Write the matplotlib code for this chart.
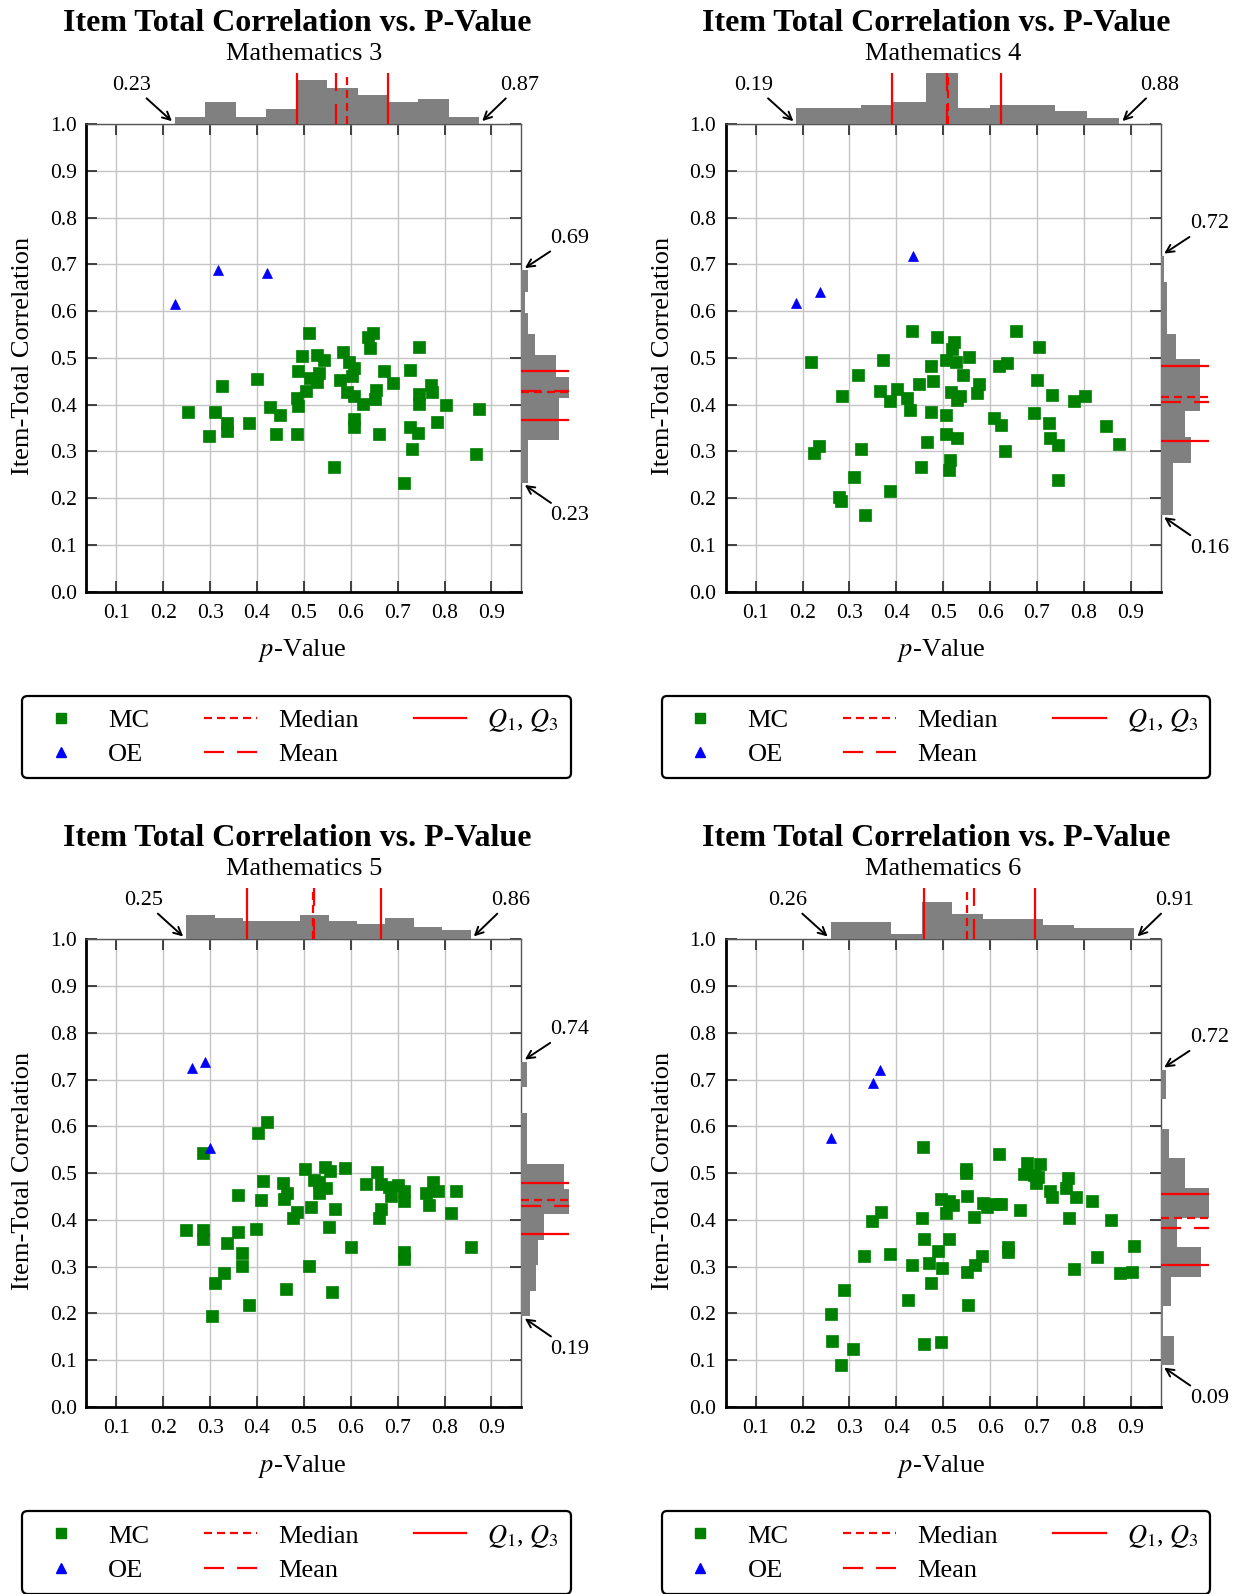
import numpy as np
import matplotlib
matplotlib.use("Agg")
import matplotlib.pyplot as plt
from matplotlib.lines import Line2D

plt.rcParams['font.family'] = ['Liberation Serif', 'DejaVu Serif']
plt.rcParams['mathtext.fontset'] = 'stix'

# ---------------- item statistics (p-value, item-total correlation) ----------------
subjects = ["Mathematics 3", "Mathematics 4", "Mathematics 5", "Mathematics 6"]

# Mathematics 3
m3_mc_p = [0.511, 0.647, 0.637, 0.640, 0.746, 0.497, 0.528, 0.542, 0.583, 0.596,
           0.606, 0.488, 0.532, 0.512, 0.528, 0.576, 0.603, 0.670, 0.690, 0.727,
           0.400, 0.325, 0.504, 0.486, 0.488, 0.591, 0.606, 0.626, 0.651, 0.653,
           0.745, 0.746, 0.771, 0.773, 0.804, 0.874, 0.252, 0.310, 0.337, 0.337,
           0.298, 0.383, 0.427, 0.450, 0.440, 0.486, 0.606, 0.606, 0.660, 0.727,
           0.744, 0.785, 0.731, 0.868, 0.565, 0.714]
m3_mc_r = [0.553, 0.554, 0.544, 0.520, 0.524, 0.504, 0.505, 0.495, 0.512, 0.490,
           0.478, 0.471, 0.467, 0.456, 0.449, 0.452, 0.461, 0.471, 0.447, 0.474,
           0.454, 0.440, 0.430, 0.415, 0.397, 0.426, 0.419, 0.402, 0.412, 0.432,
           0.423, 0.401, 0.441, 0.426, 0.399, 0.391, 0.385, 0.385, 0.360, 0.343,
           0.333, 0.360, 0.395, 0.377, 0.336, 0.337, 0.370, 0.351, 0.337, 0.352,
           0.340, 0.362, 0.305, 0.294, 0.267, 0.233]
m3_oe_p = [0.225, 0.316, 0.421]
m3_oe_r = [0.615, 0.687, 0.682]

# Mathematics 4
m4_mc_p = [0.433, 0.487, 0.522, 0.519, 0.655, 0.705, 0.219, 0.371, 0.505, 0.527,
           0.554, 0.475, 0.619, 0.636, 0.318, 0.543, 0.479, 0.448, 0.577, 0.573,
           0.701, 0.401, 0.365, 0.422, 0.387, 0.429, 0.285, 0.517, 0.535, 0.529,
           0.733, 0.779, 0.803, 0.473, 0.507, 0.609, 0.624, 0.693, 0.725, 0.848,
           0.507, 0.529, 0.465, 0.728, 0.745, 0.876, 0.325, 0.235, 0.224, 0.631,
           0.515, 0.512, 0.453, 0.309, 0.744, 0.386, 0.277, 0.282, 0.334]
m4_mc_r = [0.557, 0.545, 0.533, 0.518, 0.557, 0.523, 0.490, 0.495, 0.495, 0.491,
           0.502, 0.482, 0.482, 0.488, 0.463, 0.463, 0.450, 0.445, 0.443, 0.424,
           0.452, 0.434, 0.428, 0.415, 0.408, 0.388, 0.419, 0.426, 0.419, 0.410,
           0.421, 0.407, 0.418, 0.385, 0.377, 0.371, 0.357, 0.382, 0.360, 0.355,
           0.337, 0.328, 0.321, 0.328, 0.313, 0.316, 0.305, 0.312, 0.296, 0.300,
           0.281, 0.259, 0.266, 0.246, 0.238, 0.216, 0.202, 0.193, 0.164]
m4_oe_p = [0.187, 0.238, 0.435]
m4_oe_r = [0.617, 0.640, 0.718]

# Mathematics 5
m5_mc_p = [0.422, 0.403, 0.284, 0.502, 0.546, 0.555, 0.587, 0.656, 0.412, 0.456,
           0.521, 0.532, 0.632, 0.665, 0.682, 0.700, 0.776, 0.548, 0.360, 0.464,
           0.457, 0.532, 0.714, 0.761, 0.787, 0.824, 0.408, 0.713, 0.686, 0.767,
           0.516, 0.486, 0.477, 0.566, 0.665, 0.660, 0.814, 0.284, 0.285, 0.360,
           0.397, 0.336, 0.367, 0.369, 0.554, 0.601, 0.714, 0.714, 0.856, 0.510,
           0.330, 0.310, 0.461, 0.560, 0.383, 0.305, 0.249]
m5_mc_r = [0.610, 0.586, 0.542, 0.508, 0.512, 0.505, 0.510, 0.502, 0.483, 0.479,
           0.486, 0.482, 0.477, 0.477, 0.470, 0.474, 0.482, 0.468, 0.453, 0.457,
           0.444, 0.457, 0.461, 0.457, 0.462, 0.461, 0.442, 0.440, 0.451, 0.431,
           0.428, 0.417, 0.404, 0.424, 0.424, 0.404, 0.415, 0.379, 0.360, 0.374,
           0.380, 0.351, 0.330, 0.301, 0.385, 0.343, 0.332, 0.317, 0.341, 0.301,
           0.286, 0.266, 0.253, 0.246, 0.218, 0.194, 0.378]
m5_oe_p = [0.261, 0.289, 0.300]
m5_oe_r = [0.725, 0.738, 0.554]

# Mathematics 6
m6_mc_p = [0.457, 0.620, 0.678, 0.707, 0.673, 0.694, 0.703, 0.697, 0.549, 0.549,
           0.767, 0.761, 0.727, 0.733, 0.783, 0.818, 0.550, 0.495, 0.513, 0.520,
           0.585, 0.594, 0.611, 0.623, 0.664, 0.506, 0.566, 0.455, 0.768, 0.859,
           0.368, 0.348, 0.460, 0.513, 0.488, 0.638, 0.638, 0.583, 0.567, 0.551,
           0.469, 0.498, 0.434, 0.387, 0.330, 0.829, 0.908, 0.779, 0.878, 0.903,
           0.474, 0.289, 0.424, 0.260, 0.553, 0.263, 0.308, 0.459, 0.496, 0.283]
m6_mc_r = [0.556, 0.541, 0.521, 0.519, 0.498, 0.496, 0.492, 0.479, 0.508, 0.501,
           0.490, 0.468, 0.461, 0.448, 0.448, 0.440, 0.451, 0.444, 0.440, 0.432,
           0.436, 0.427, 0.433, 0.433, 0.422, 0.415, 0.407, 0.404, 0.405, 0.400,
           0.417, 0.398, 0.358, 0.358, 0.334, 0.341, 0.332, 0.323, 0.304, 0.288,
           0.308, 0.297, 0.303, 0.326, 0.323, 0.320, 0.345, 0.295, 0.286, 0.288,
           0.265, 0.249, 0.229, 0.199, 0.218, 0.141, 0.124, 0.134, 0.139, 0.089]
m6_oe_p = [0.261, 0.351, 0.366]
m6_oe_r = [0.576, 0.692, 0.721]

panels = [
    (m3_mc_p, m3_mc_r, m3_oe_p, m3_oe_r),
    (m4_mc_p, m4_mc_r, m4_oe_p, m4_oe_r),
    (m5_mc_p, m5_mc_r, m5_oe_p, m5_oe_r),
    (m6_mc_p, m6_mc_r, m6_oe_p, m6_oe_r),
]

x_ticks = [0.1, 0.2, 0.3, 0.4, 0.5, 0.6, 0.7, 0.8, 0.9]
y_ticks = [0.0, 0.1, 0.2, 0.3, 0.4, 0.5, 0.6, 0.7, 0.8, 0.9, 1.0]

# ---------------- layout (pixels) ----------------
W, H = 1241, 1594
fig = plt.figure(figsize=(W / 100, H / 100), dpi=100)


def fx(px):
    return px / W


def fw(px):
    return px / W


def fh(px):
    return px / H


def fy(py):
    return 1 - py / H


AX_L, AX_T, AX_W, AX_H = 86.4, 124.0, 435.0, 467.6
COL_DX, ROW_DY = 639.3, 815.3
HIST_H, HIST_W = 51.0, 48.0
XLIM = (0.036, 0.964)

RED = '#ff0000'
MEDIAN_DASH = (0, (3.6, 2.25))
MEAN_DASH = (0, (9.0, 5.9))

for i, (mc_p, mc_r, oe_p, oe_r) in enumerate(panels):
    col, row = i % 2, i // 2
    left = AX_L + col * COL_DX
    top = AX_T + row * ROW_DY

    ax = fig.add_axes([fx(left), fy(top + AX_H), fw(AX_W), fh(AX_H)])
    ax_top = fig.add_axes([fx(left), fy(top), fw(AX_W), fh(HIST_H)], sharex=ax)
    ax_rt = fig.add_axes([fx(left + AX_W), fy(top + AX_H), fw(HIST_W), fh(AX_H)], sharey=ax)

    # scatter
    ax.plot(mc_p, mc_r, 's', color='#008000', ms=8.6, mec='#008000', mew=0.5, zorder=3)
    ax.plot(oe_p, oe_r, '^', color='#0000ff', ms=7.8, mec='#0000ff', mew=0.5, zorder=3)
    ax.set_xlim(*XLIM)
    ax.set_ylim(0, 1)
    ax.set_xticks(x_ticks)
    ax.set_yticks(y_ticks)
    ax.set_xticklabels([f"{v:.1f}" for v in x_ticks])
    ax.set_yticklabels([f"{v:.1f}" for v in y_ticks])
    ax.grid(True, color='#c4c4c4', lw=1.0, zorder=0)
    ax.set_axisbelow(True)
    ax.tick_params(direction='in', length=8, width=1.3, top=True, right=True,
                   labelsize=15.5, color='#333333')
    ax.tick_params(axis='x', pad=9)
    ax.tick_params(axis='y', pad=7)
    for side in ('left', 'bottom'):
        ax.spines[side].set_linewidth(2.0)
    for side in ('top', 'right'):
        ax.spines[side].set_linewidth(1.0)
        ax.spines[side].set_color('#555555')

    # marginal histograms over all items
    all_p = np.array(list(mc_p) + list(oe_p))
    all_r = np.array(list(mc_r) + list(oe_r))
    cp, ep = np.histogram(all_p, bins=10)
    cr, er = np.histogram(all_r, bins=10)
    lim = max(cp.max(), cr.max())

    ax_top.hist(all_p, bins=ep, histtype='stepfilled', color='#808080', lw=0)
    ax_rt.hist(all_r, bins=er, histtype='stepfilled', color='#808080', lw=0,
               orientation='horizontal')
    ax_top.set_ylim(0, lim)
    ax_rt.set_xlim(0, lim)

    for data, hax, line in ((all_p, ax_top, ax_top.axvline), (all_r, ax_rt, ax_rt.axhline)):
        q1, med, q3 = np.percentile(data, [25, 50, 75])
        mean = data.mean()
        line(q1, color=RED, lw=1.6)
        line(q3, color=RED, lw=1.6)
        line(med, color=RED, lw=1.6, ls=MEDIAN_DASH)
        line(mean, color=RED, lw=1.6, ls=MEAN_DASH)
        hax.axis('off')

    # min / max callouts
    arrow = dict(arrowstyle='->', color='black', lw=1.4, shrinkA=1, shrinkB=3,
                 mutation_scale=14)
    ax_top.annotate(f"{all_p.min():.2f}", xy=(all_p.min(), 0), xytext=(-31, 28),
                    textcoords='offset points', ha='center', va='center',
                    fontsize=16, arrowprops=arrow, annotation_clip=False)
    ax_top.annotate(f"{all_p.max():.2f}", xy=(all_p.max(), 0), xytext=(29, 28),
                    textcoords='offset points', ha='center', va='center',
                    fontsize=16, arrowprops=arrow, annotation_clip=False)
    ax_rt.annotate(f"{all_r.max():.2f}", xy=(0, all_r.max()), xytext=(35, 23),
                   textcoords='offset points', ha='center', va='center',
                   fontsize=16, arrowprops=arrow, annotation_clip=False)
    ax_rt.annotate(f"{all_r.min():.2f}", xy=(0, all_r.min()), xytext=(35, -24),
                   textcoords='offset points', ha='center', va='center',
                   fontsize=16, arrowprops=arrow, annotation_clip=False)

    # titles and axis labels
    cx = 297.0 + col * COL_DX
    fig.text(fx(cx), fy(23.5 + row * ROW_DY), "Item Total Correlation vs. P-Value",
             ha='center', va='center', fontsize=23, fontweight='bold')
    fig.text(fx(left + AX_W / 2), fy(53.5 + row * ROW_DY), subjects[i],
             ha='center', va='center', fontsize=19)
    fig.text(fx(left + AX_W / 2 - 2), fy(651.0 + row * ROW_DY), "$p$-Value",
             ha='center', va='center', fontsize=19)
    fig.text(fx(23.5 + col * COL_DX), fy(top + AX_H / 2 - 2), "Item-Total Correlation",
             ha='center', va='center', rotation=90, fontsize=19)

    # legend
    handles = [
        Line2D([], [], ls='none', marker='s', color='#008000', ms=6.5),
        Line2D([], [], ls='none', marker='^', color='#0000ff', ms=6.5),
        Line2D([], [], color=RED, lw=1.6, ls=MEDIAN_DASH),
        Line2D([], [], color=RED, lw=1.6, ls=MEAN_DASH),
        Line2D([], [], color=RED, lw=1.6),
    ]
    labels = ["MC", "OE", "Median", "Mean", "$Q_1$, $Q_3$"]
    lg_left = 22.4 + col * COL_DX
    lg_top = 694.0 + row * ROW_DY
    leg = fig.legend(handles, labels, ncol=3, loc='center',
                     bbox_to_anchor=(fx(lg_left), fy(lg_top + 86), fw(548.6), fh(86)),
                     mode='expand', fontsize=19, frameon=True, fancybox=True,
                     handlelength=2.0, handletextpad=0.8, columnspacing=2.0,
                     labelspacing=0.4, borderpad=0.45, borderaxespad=0.0)
    leg.get_frame().set_edgecolor('black')
    leg.get_frame().set_linewidth(1.6)
    leg.get_frame().set_alpha(1)

fig.savefig("out.png", dpi=100)
